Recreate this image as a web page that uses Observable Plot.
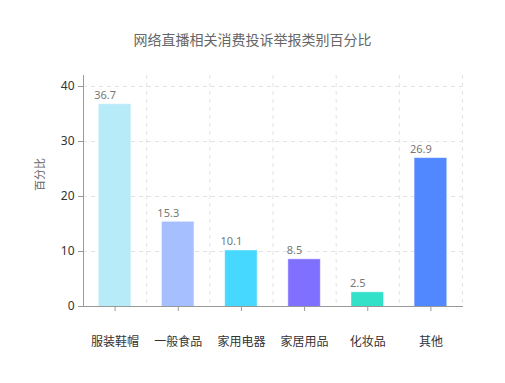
<!DOCTYPE html>
<html><head><meta charset="utf-8">
<script src="https://cdn.jsdelivr.net/npm/d3@7"></script>
<script src="https://cdn.jsdelivr.net/npm/@observablehq/plot@0.6"></script>
<style>
body{margin:0;background:#fff;font-family:"Noto Sans","Noto Sans CJK SC",sans-serif;}
#wrap{position:relative;width:505px;height:383px;}
#title{position:absolute;top:29px;left:0;width:505px;text-align:center;font-size:14px;color:#666;font-family:"Noto Sans CJK SC",sans-serif;}
</style></head>
<body><div id="wrap"><div id="title">网络直播相关消费投诉举报类别百分比</div></div>
<script>
const categories = ["服装鞋帽","一般食品","家用电器","家居用品","化妆品","其他"];
const values = [36.7, 15.3, 10.1, 8.5, 2.5, 26.9];
const colors = ["#b8ebf8","#a6bfff","#47d8ff","#7f70ff","#33e0c8","#5288ff"];
const yTicks = [0,10,20,30,40];

const data = categories.map((c,i)=>({c, i, v: values[i], color: colors[i]}));
const n = categories.length;
const chart = Plot.plot({
  width: 505, height: 383,
  marginTop: 75, marginBottom: 77, marginLeft: 83, marginRight: 43,
  style: {fontFamily: '"Noto Sans","Noto Sans CJK SC",sans-serif', fontSize: "12px", color: "#333", background: "transparent"},
  x: {type: "linear", domain: [0, n]},
  y: {type: "linear", domain: [0, 42]},
  marks: [
    Plot.ruleY(yTicks.filter(t=>t>0), {y: d=>d, stroke: "#e3e3e3", strokeDasharray: "4,4"}),
    Plot.ruleX(d3.range(1, n+1), {x: d=>d, stroke: "#e3e3e3", strokeDasharray: "4,4"}),
    Plot.rectY(data, {x1: d=>d.i+0.25, x2: d=>d.i+0.75, y1: d=>0, y2: "v", fill: "color", stroke: "color", strokeOpacity: 0.5}),
    Plot.text(data, {x: d=>d.i+0.5, y: "v", text: d=>d.v.toFixed(1), dx: -10, dy: -9, fill: "#777", fontSize: 11}),
    Plot.axisY({ticks: yTicks, tickSize: 5, tickPadding: 4, label: null, stroke: "#999", fill: "#333", fontSize: 12}),
    Plot.axisX({ticks: d3.range(n).map(i=>i+0.5), tickFormat: d=>categories[Math.floor(d)], tickSize: 5, tickPadding: 26, label: null, stroke: "#999", fill: "#333", fontSize: 12}),
    Plot.frame({anchor: "left", stroke: "#999"}),
    Plot.frame({anchor: "bottom", stroke: "#999"}),
    Plot.text(["百分比"], {frameAnchor: "left", dx: -43, rotate: -90, fill: "#666", fontSize: 11})
  ]
});
document.getElementById("wrap").prepend(chart);
</script></body></html>
